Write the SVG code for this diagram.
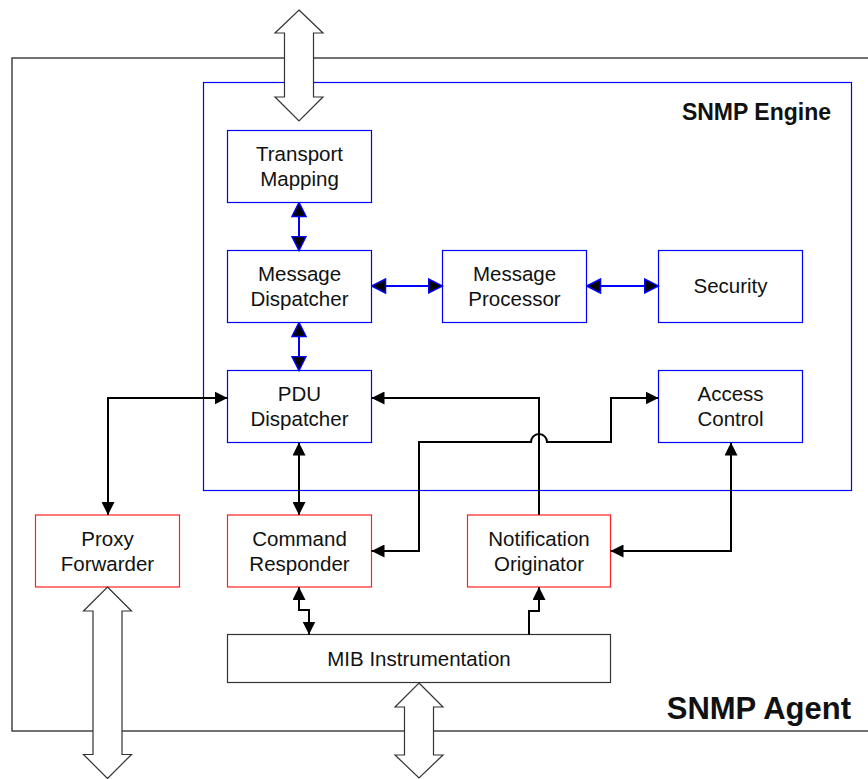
<svg xmlns="http://www.w3.org/2000/svg" width="868" height="779" viewBox="0 0 868 779">
<style>
text{font-family:"Liberation Sans",Arial,sans-serif;fill:#111;}
.t{font-size:20.5px;text-anchor:middle;}
.b{fill:#fff;stroke:#0000ff;stroke-width:1.2;}
.r{fill:#fff;stroke:#ff2020;stroke-width:1.2;}
.g{fill:#fff;stroke:#333;stroke-width:1.2;}
.bc{fill:none;stroke:#0000ff;stroke-width:2;marker-start:url(#ab);marker-end:url(#ab);}
.kc{fill:none;stroke:#000;stroke-width:2;}
.k2{marker-start:url(#ak);marker-end:url(#ak);}
.k1{marker-end:url(#ak);}
.big{fill:#fff;stroke:#333;stroke-width:1.2;stroke-linejoin:miter;}
</style>
<defs>
<marker id="ab" viewBox="0 0 16 16" refX="15" refY="8" markerWidth="16" markerHeight="16" markerUnits="userSpaceOnUse" orient="auto-start-reverse">
<path d="M1,1 L15,8 L1,15 z" fill="#000" stroke="#0000ff" stroke-width="1.5"/>
</marker>
<marker id="ak" viewBox="0 0 13 13" refX="13" refY="6.5" markerWidth="13" markerHeight="13" markerUnits="userSpaceOnUse" orient="auto-start-reverse">
<path d="M0,0 L13,6.5 L0,13 z" fill="#000"/>
</marker>
</defs>
<rect width="868" height="779" fill="#fff"/>
<g id="snmp-agent">
<path d="M868,58 H12 V731 H868" fill="none" stroke="#444" stroke-width="1.5"/>
<text x="851" y="719" style="font-size:31px;font-weight:bold;text-anchor:end;">SNMP Agent</text>
</g>
<g id="snmp-engine">
<rect x="203.5" y="82.5" width="648" height="408" fill="none" stroke="#0000ff" stroke-width="1.2"/>
<text x="831" y="120" style="font-size:23px;font-weight:bold;text-anchor:end;">SNMP Engine</text>
</g>
<g id="transport-mapping">
<rect class="b" x="227.5" y="130.5" width="144" height="72"/>
<text class="t" x="299.5" y="161">Transport</text>
<text class="t" x="299.5" y="186">Mapping</text>
</g>
<g id="message-dispatcher">
<rect class="b" x="227.5" y="250.5" width="144" height="72"/>
<text class="t" x="299.5" y="281">Message</text>
<text class="t" x="299.5" y="306">Dispatcher</text>
</g>
<g id="message-processor">
<rect class="b" x="442.5" y="250.5" width="144" height="72"/>
<text class="t" x="514.5" y="281">Message</text>
<text class="t" x="514.5" y="306">Processor</text>
</g>
<g id="security">
<rect class="b" x="658.5" y="250.5" width="144" height="72"/>
<text class="t" x="730.5" y="293">Security</text>
</g>
<g id="pdu-dispatcher">
<rect class="b" x="227.5" y="370.5" width="144" height="72"/>
<text class="t" x="299.5" y="401">PDU</text>
<text class="t" x="299.5" y="426">Dispatcher</text>
</g>
<g id="access-control">
<rect class="b" x="658.5" y="370.5" width="144" height="72"/>
<text class="t" x="730.5" y="401">Access</text>
<text class="t" x="730.5" y="426">Control</text>
</g>
<g id="proxy-forwarder">
<rect class="r" x="35.5" y="515" width="144" height="72"/>
<text class="t" x="107.5" y="546">Proxy</text>
<text class="t" x="107.5" y="571">Forwarder</text>
</g>
<g id="command-responder">
<rect class="r" x="227.5" y="515" width="144" height="72"/>
<text class="t" x="299.5" y="546">Command</text>
<text class="t" x="299.5" y="571">Responder</text>
</g>
<g id="notification-originator">
<rect class="r" x="467.5" y="515" width="143" height="72"/>
<text class="t" x="539" y="546">Notification</text>
<text class="t" x="539" y="571">Originator</text>
</g>
<g id="mib-instrumentation">
<rect class="g" x="227.5" y="634.5" width="383" height="48"/>
<text class="t" x="419" y="666">MIB Instrumentation</text>
</g>
<g id="connectors">
<path class="bc" d="M299,202.5 V250.5"/>
<path class="bc" d="M299,322.5 V370.5"/>
<path class="bc" d="M371.5,286 H442.5"/>
<path class="bc" d="M586.5,286 H658.5"/>
<path class="kc k2" d="M227.5,398 H108 V515"/>
<path class="kc k2" d="M299,442.5 V515"/>
<path class="kc k1" d="M539,515 V398 H371.5"/>
<path class="kc k2" d="M371.5,551 H419 V442 H531 A8,8 0 0 1 547,442 H611 V398 H658.5"/>
<path class="kc k2" d="M731,442.5 V551 H610.5"/>
<path class="kc k2" d="M299,587 V610 H309 V634.5"/>
<path class="kc k1" d="M529,634.5 V611 H539 V587"/>
</g>
<g id="external-arrows">
<polygon class="big" points="299,10 323,33 313.5,33 313.5,97 323,97 299,121 275,97 284.5,97 284.5,33 275,33"/>
<polygon class="big" points="107.5,587 131.5,611 122,611 122,754.5 131.5,754.5 107.5,778.5 83.5,754.5 93,754.5 93,611 83.5,611"/>
<polygon class="big" points="419,683 443,707 433.5,707 433.5,755 443,755 419,778 395,755 404.5,755 404.5,707 395,707"/>
</g>
</svg>
